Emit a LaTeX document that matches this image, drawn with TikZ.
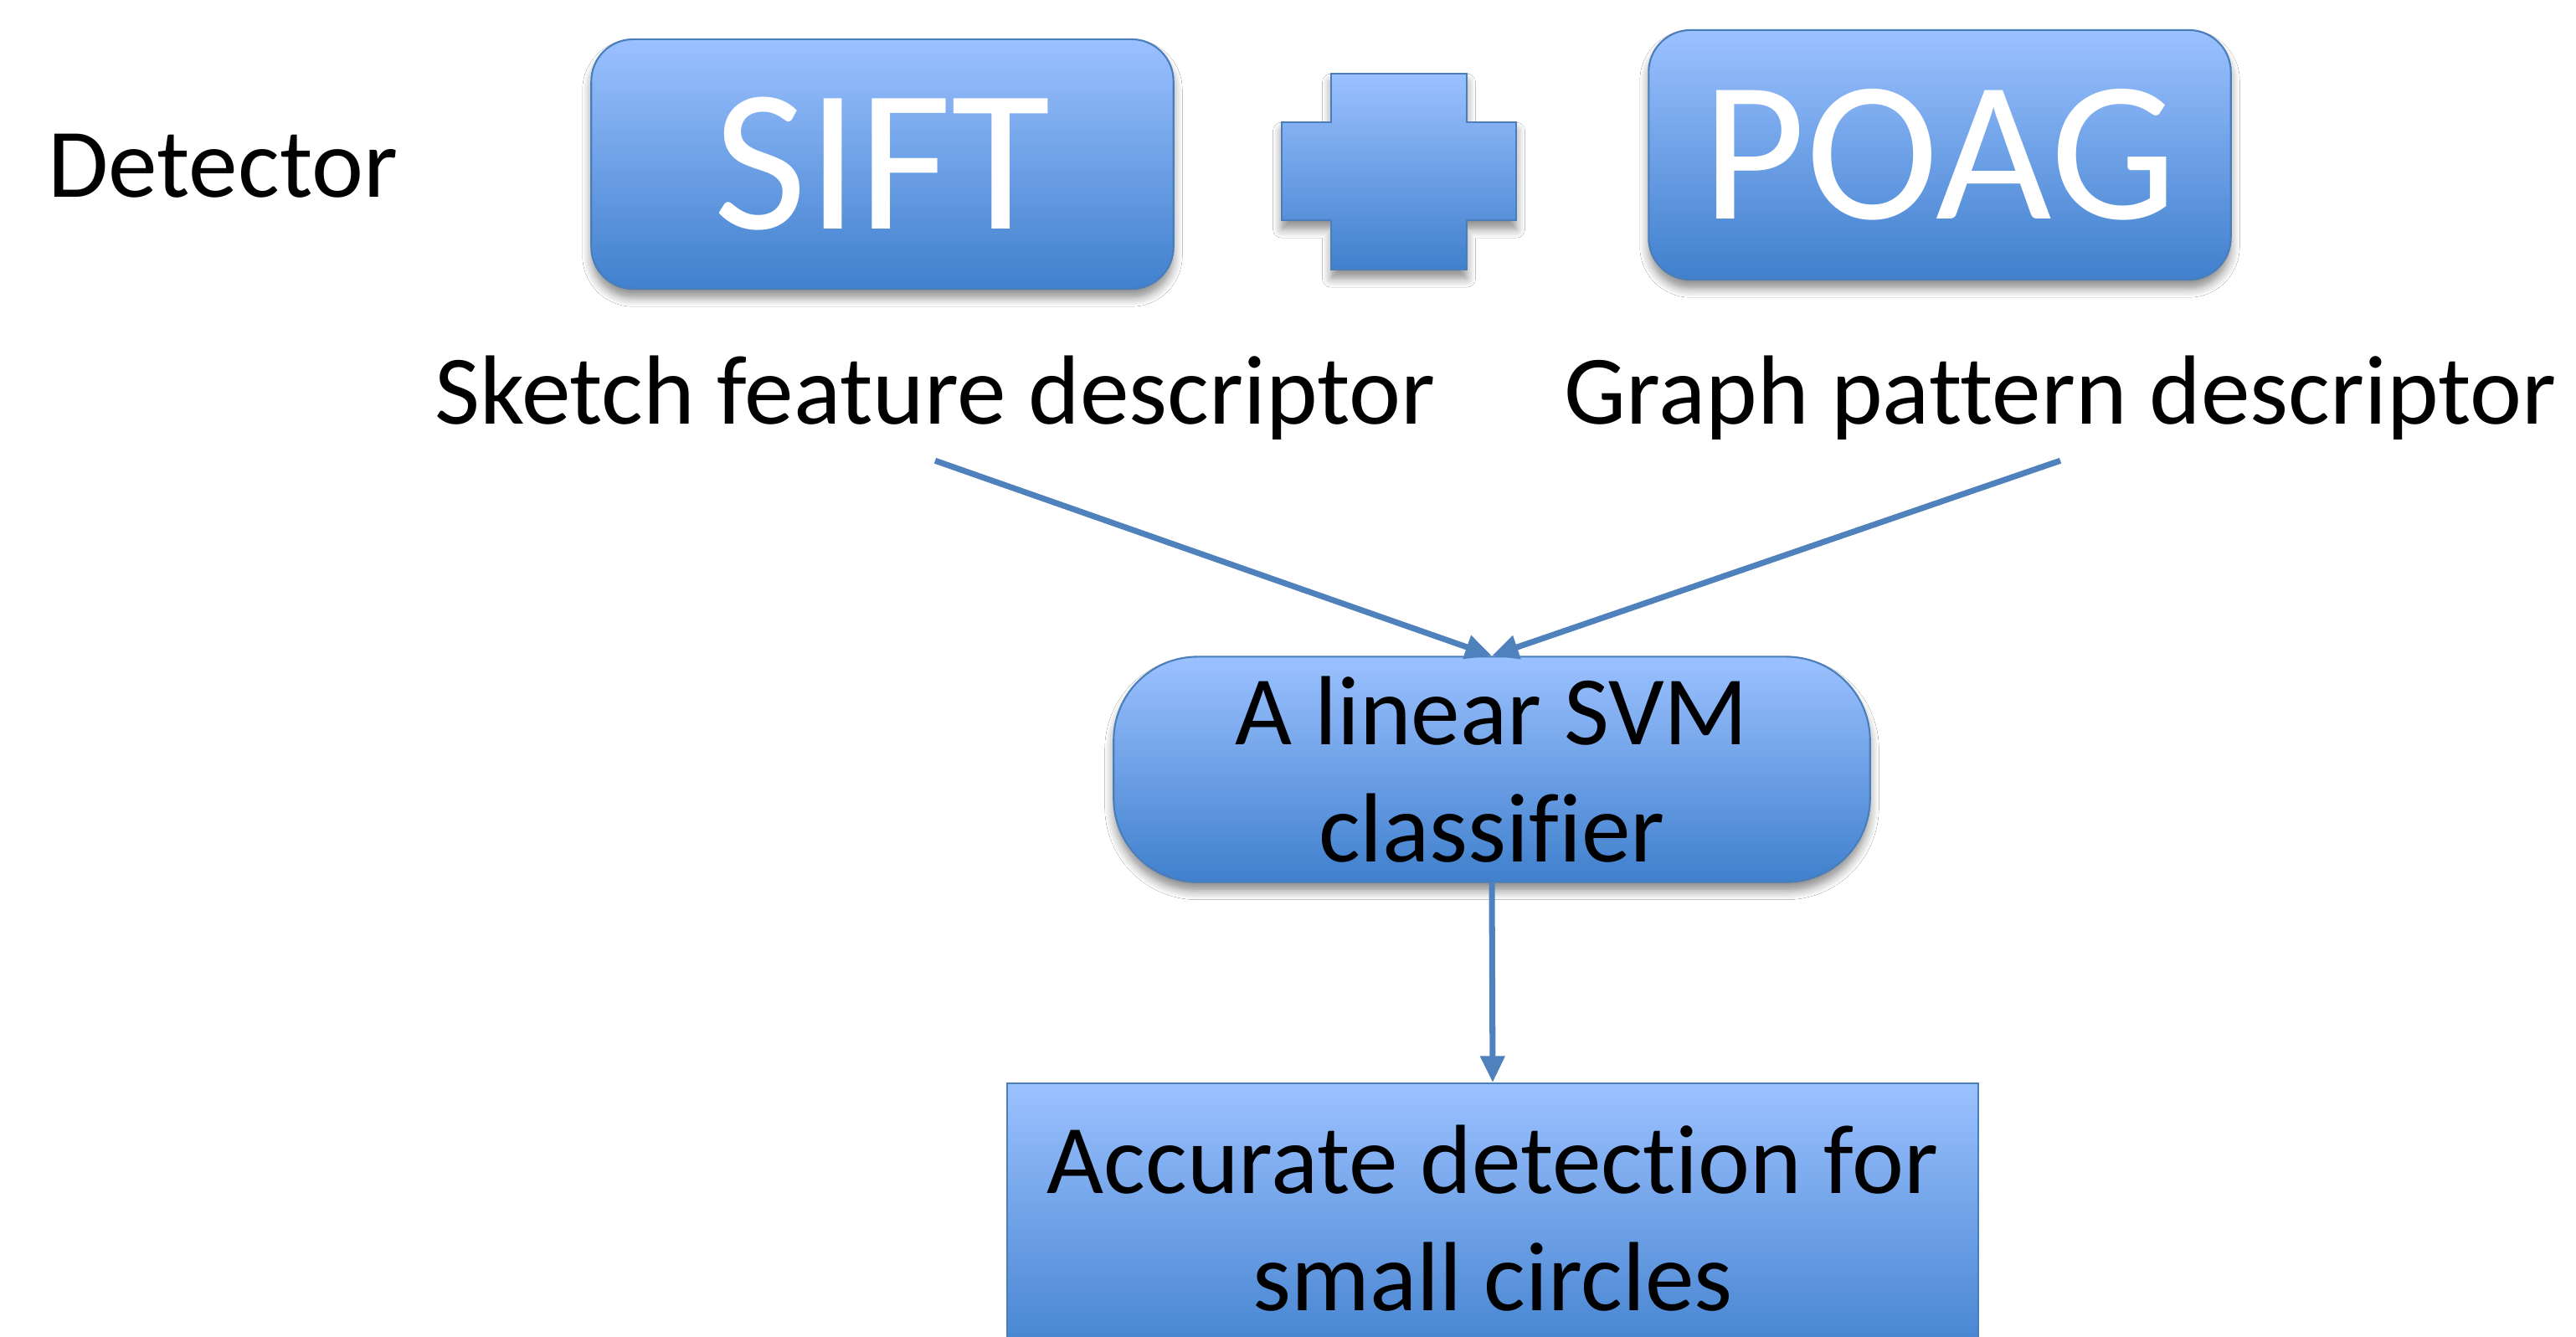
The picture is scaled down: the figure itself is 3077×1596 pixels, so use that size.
\documentclass[tikz,border=0pt]{standalone}
\usepackage{fontspec}
\setmainfont{Carlito}[Ligatures=NoCommon]
\usetikzlibrary{arrows.meta,shadows.blur}
\definecolor{gtop}{RGB}{155,193,255}
\definecolor{gbot}{RGB}{64,128,205}
\definecolor{edgec}{RGB}{74,126,187}
\definecolor{arrowc}{RGB}{79,129,189}
\begin{document}
\begin{tikzpicture}[x=0.01cm,y=-0.01cm,
  grad/.style={top color=gtop, bottom color=gbot, draw=edgec, line width=0.6pt},
  shad/.style={blur shadow={shadow xshift=0pt, shadow yshift=-3pt, shadow blur radius=3pt, shadow blur steps=6, shadow opacity=45}},
  topbox/.style={grad, shad, rounded corners=0.5cm, minimum width=6.95cm, minimum height=2.98cm, inner sep=0pt, text=white, font=\fontsize{69}{83}\selectfont},
  lbl/.style={font=\fontsize{33.4}{40}\selectfont, inner sep=7pt},
  conn/.style={draw=arrowc, line width=2pt, -{Triangle[length=9pt,width=8pt]}}
]
\useasboundingbox (0,0) rectangle (3077,1596);
\fill[white] (0,0) rectangle (3077,1596);

\node[lbl, anchor=base west, inner sep=0pt] (det) at (57,235) {Detector};

\node[topbox] (sift) at (1054,196) {SIFT};
\node[topbox, font=\fontsize{68}{82}\selectfont] (poag) at (2317,185) {POAG};

\path[grad, shad] (1590,88) -- (1752,88) -- (1752,146) -- (1811,146) -- (1811,263)
  -- (1752,263) -- (1752,322) -- (1590,322) -- (1590,263) -- (1531,263)
  -- (1531,146) -- (1590,146) -- cycle;

\node[lbl, anchor=base] (sketch) at (1117,506) {Sketch feature descriptor};
\node[lbl, anchor=base] (graph) at (2461,506) {Graph pattern descriptor};

\node[grad, shad, rounded corners=1cm, minimum width=9.03cm, minimum height=2.69cm,
  align=center, font=\fontsize{33.4}{40}\selectfont, inner sep=0pt] (svm) at (1782,919)
  {A linear SVM\\classifier};

\node[grad, minimum width=11.6cm, minimum height=3.4cm, anchor=north, inner sep=0pt] (acc) at (1783,1293) {};
\node[lbl, align=center, inner sep=0pt] (acctext) at (1783,1455) {Accurate detection for\\small circles};

\draw[conn] (sketch.south) -- (svm.north);
\draw[conn] (graph.south) -- (svm.north);
\draw[conn] (svm.south) -- (acc.north);
\end{tikzpicture}
\end{document}
